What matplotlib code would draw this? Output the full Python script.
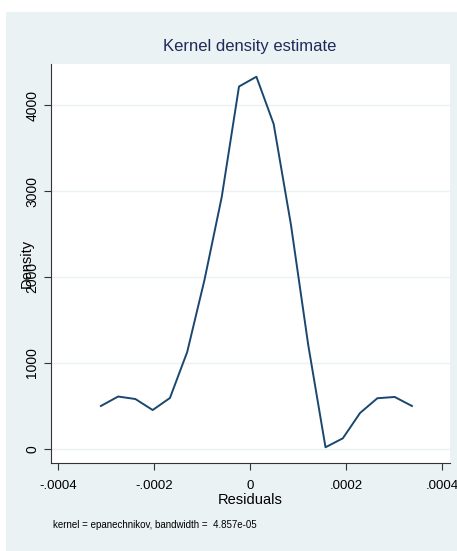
import matplotlib.pyplot as plt
from matplotlib.patches import Rectangle

# evaluation grid of the kernel density estimate (residuals) and density values
residuals = [-0.000311, -0.000275, -0.000239, -0.000203, -0.000167, -0.000131,
             -0.000095, -0.000059, -0.000023, 0.0000133, 0.0000493, 0.0000854,
             0.0001214, 0.0001574, 0.0001935, 0.0002295, 0.0002655, 0.0003016,
             0.0003377]
density = [500, 610, 581, 453, 593, 1128, 1965, 2930, 4215, 4329, 3779, 2605,
           1209, 20, 124, 419, 590, 605, 500]

xticks = [-0.0004, -0.0002, 0, 0.0002, 0.0004]
xticklabels = ['-.0004', '-.0002', '0', '.0002', '.0004']
yticks = [0, 1000, 2000, 3000, 4000]

plt.rcParams['font.family'] = ['Liberation Sans', 'DejaVu Sans']

fig = plt.figure(figsize=(4.57, 5.51), dpi=100)
fig.patch.set_facecolor('white')
# light graph region behind the plot area
fig.patches.append(Rectangle((6 / 457, 0), 1, 1 - 12 / 551, transform=fig.transFigure,
                             facecolor='#eaf2f3', edgecolor='none', zorder=-10))

ax = fig.add_axes([51 / 457, 88 / 551, 399 / 457, 399 / 551])
ax.set_facecolor('white')
ax.plot(residuals, density, color='#1a476f', linewidth=1.4)

ax.set_xlim(-0.000415, 0.000417)
ax.set_ylim(-163, 4477)
ax.set_xticks(xticks)
ax.set_xticklabels(xticklabels, fontsize=9.5)
ax.set_yticks(yticks)
ax.set_yticklabels([str(v) for v in yticks], fontsize=10, rotation=90, va='center')
ax.grid(axis='y', color='#eaf2f3', linewidth=1)
ax.set_axisbelow(True)
for s in ['top', 'right']:
    ax.spines[s].set_visible(False)
for s in ['left', 'bottom']:
    ax.spines[s].set_color('#333333')
ax.tick_params(direction='out', length=5, color='#333333', labelcolor='black')
ax.tick_params(axis='x', pad=7)

ax.set_xlabel('Residuals', fontsize=10.5, labelpad=1)
ax.set_ylabel('Density', fontsize=10.5, labelpad=-6)

fig.text(250 / 457, 1 - 47 / 551, 'Kernel density estimate', ha='center', va='center',
         fontsize=12, color='#1e2a5a')
fig.text(53 / 457, 1 - 525 / 551, 'kernel = epanechnikov, bandwidth =  4.857e-05',
         ha='left', va='center', fontsize=7)

fig.savefig('out.png', dpi=100)
